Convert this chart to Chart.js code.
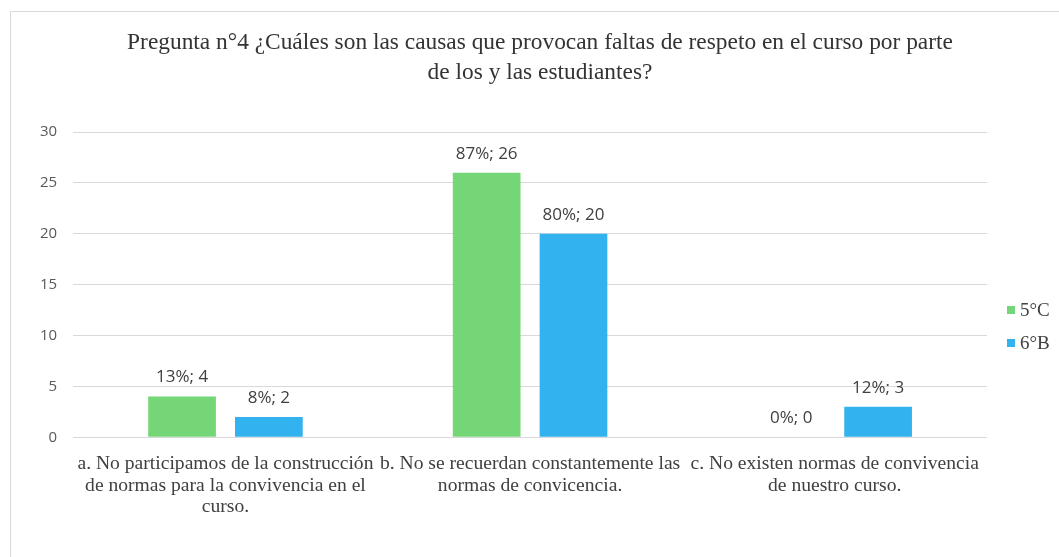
<!DOCTYPE html>
<html>
<head>
  <meta charset="utf-8" />
  <title>Pregunta 4</title>
  <script src="https://cdn.jsdelivr.net/npm/chart.js"></script>
  <style>
    body { margin: 0; background: #fff; }
    .marco { position: absolute; left: 10px; top: 11px; width: 1100px; height: 600px;
             border-left: 1px solid #d9d9d9; border-top: 1px solid #d9d9d9; }
    .caja { position: absolute; left: 0; top: 0; width: 1059px; height: 557px; }
  </style>
</head>
<body>
  <div class="marco"></div>
  <div class="caja">
    <canvas id="grafico" width="1059" height="557"></canvas>
  </div>

  <script>
    // Datos
    const titulo = ['Pregunta n°4 ¿Cuáles son las causas que provocan faltas de respeto en el curso por parte',
                    'de los y las estudiantes?'];
    const categorias = [
      ['a. No participamos de la construcción', 'de normas para la convivencia en el', 'curso.'],
      ['b. No se recuerdan constantemente las', 'normas de convicencia.'],
      ['c. No existen normas de convivencia', 'de nuestro curso.']
    ];
    const series = ['5°C', '6°B'];
    const valores5C = [4, 26, 0];
    const valores6B = [2, 20, 3];
    const porcentaje5C = [13, 87, 0];
    const porcentaje6B = [8, 80, 12];
    const ticksY = [0, 5, 10, 15, 20, 25, 30];

    const colores = ['#74D677', '#32B2EE'];
    const porcentajes = [porcentaje5C, porcentaje6B];

    // título centrado en todo el cuadro (no solo en el área del gráfico)
    const tituloPlugin = {
      id: 'tituloPlugin',
      afterDraw(chart) {
        const ctx = chart.ctx;
        ctx.save();
        ctx.font = '23.4px "Liberation Serif"';
        ctx.fillStyle = '#333';
        ctx.textAlign = 'center';
        ctx.textBaseline = 'middle';
        titulo.forEach((linea, i) => ctx.fillText(linea, 540, 43 + i * 30));
        ctx.restore();
      }
    };

    // etiquetas "pct%; valor" encima de cada barra
    const etiquetas = {
      id: 'etiquetas',
      afterDatasetsDraw(chart) {
        const ctx = chart.ctx;
        ctx.save();
        ctx.font = '17px "Open Sans"';
        ctx.fillStyle = '#404040';
        ctx.textAlign = 'center';
        ctx.textBaseline = 'middle';
        chart.data.datasets.forEach((ds, i) => {
          chart.getDatasetMeta(i).data.forEach((bar, j) => {
            ctx.fillText(porcentajes[i][j] + '%; ' + ds.data[j], bar.x, bar.y - 19);
          });
        });
        ctx.restore();
      }
    };

    // leyenda a la derecha
    const leyenda = {
      id: 'leyenda',
      afterDraw(chart) {
        const ctx = chart.ctx;
        const x = chart.chartArea.right + 20;
        let y = 310;
        ctx.save();
        ctx.font = '19px "Liberation Serif"';
        ctx.textBaseline = 'middle';
        chart.data.datasets.forEach(ds => {
          ctx.fillStyle = ds.backgroundColor;
          ctx.fillRect(x, y - 4, 8, 8);
          ctx.fillStyle = '#404040';
          ctx.fillText(ds.label, x + 13, y + 1);
          y += 33;
        });
        ctx.restore();
      }
    };

    new Chart(document.getElementById('grafico'), {
      type: 'bar',
      data: {
        labels: categorias,
        datasets: [
          { label: series[0], data: valores5C, backgroundColor: colores[0] },
          { label: series[1], data: valores6B, backgroundColor: colores[1] }
        ]
      },
      options: {
        responsive: false,
        animation: false,
        categoryPercentage: 0.57,
        barPercentage: 0.78,
        layout: { padding: { left: 24, right: 72, top: 132, bottom: 31 } },
        plugins: {
          legend: { display: false },
          tooltip: { enabled: false },
          title: { display: false }
        },
        scales: {
          x: {
            grid: { display: false },
            border: { display: false },
            ticks: {
              color: '#404040',
              font: { family: 'Liberation Serif', size: 19.6, lineHeight: 1.1 },
              padding: 8,
              maxRotation: 0,
              autoSkip: false
            }
          },
          y: {
            min: 0,
            max: 30,
            afterBuildTicks: (axis) => { axis.ticks = ticksY.map(v => ({ value: v })); },
            grid: { color: '#d9d9d9', drawTicks: false },
            border: { display: false },
            ticks: {
              color: '#595959',
              font: { family: 'Open Sans', size: 15 },
              padding: 16
            }
          }
        }
      },
      plugins: [tituloPlugin, etiquetas, leyenda]
    });
  </script>
</body>
</html>
